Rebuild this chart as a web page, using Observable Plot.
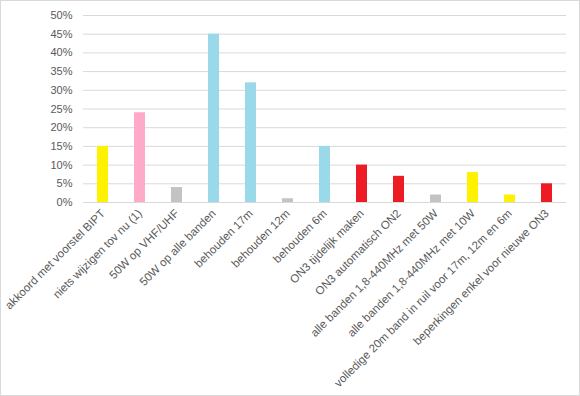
<!DOCTYPE html>
<html>
<head>
<meta charset="utf-8">
<script src="https://cdn.jsdelivr.net/npm/d3@7"></script>
<script src="https://cdn.jsdelivr.net/npm/@observablehq/plot@0.6"></script>
<style>
  html, body { margin: 0; padding: 0; background: #fff; }
  #wrap { position: relative; width: 580px; height: 396px; }
  #border { position: absolute; left: 0; top: 0; width: 580px; height: 396px; box-sizing: border-box; border: 1px solid #D9D9D9; pointer-events: none; }
  #chart svg { display: block; }
</style>
</head>
<body>
<div id="wrap"><div id="chart"></div><div id="border"></div></div>
<script>
const categories = [
  "akkoord met voorstel BIPT",
  "niets wijzigen tov nu (1)",
  "50W op VHF/UHF",
  "50W op alle banden",
  "behouden 17m",
  "behouden 12m",
  "behouden 6m",
  "ON3 tijdelijk maken",
  "ON3 automatisch ON2",
  "alle banden 1,8-440MHz met 50W",
  "alle banden 1,8-440MHz met 10W",
  "volledige 20m band in ruil voor 17m, 12m en 6m",
  "beperkingen enkel voor nieuwe ON3"
];
const values = [0.15, 0.24, 0.04, 0.45, 0.32, 0.01, 0.15, 0.10, 0.07, 0.02, 0.08, 0.02, 0.05];
const groups = ["g1", "g2", "g3", "g4", "g4", "g3", "g4", "g5", "g5", "g3", "g1", "g1", "g5"];
const groupNames = ["g1", "g2", "g3", "g4", "g5"];
const groupColors = ["#FFF200", "#FFAAC9", "#C3C3C3", "#99D9EA", "#ED1C24"];
const yTicks = [0, 0.05, 0.10, 0.15, 0.20, 0.25, 0.30, 0.35, 0.40, 0.45, 0.50];

const data = categories.map((c, i) => ({category: c, value: values[i], group: groups[i]}));

const chart = Plot.plot({
  width: 580,
  height: 396,
  marginTop: 15,
  marginBottom: 194,
  marginLeft: 83,
  marginRight: 14,
  style: {fontFamily: "'Liberation Sans', Arial, sans-serif", fontSize: "10px", color: "#595959", background: "#fff"},
  x: {domain: categories, paddingInner: 0.7, paddingOuter: 0.35, label: null},
  y: {domain: [0, 0.5], label: null},
  color: {type: "ordinal", domain: groupNames, range: groupColors},
  marks: [
    Plot.gridY(yTicks, {stroke: "#D9D9D9", strokeOpacity: 1}),
    Plot.axisY(yTicks, {tickSize: 0, tickPadding: 11, tickFormat: d3.format(".0%"), label: null, fontSize: 11}),
    Plot.barY(data, {x: "category", y: "value", fill: "group"}),
    Plot.axisX({tickSize: 0, tickRotate: -45, tickPadding: 9, label: null, fontSize: 11.5})
  ]
});
document.getElementById("chart").appendChild(chart);
</script>
</body>
</html>
